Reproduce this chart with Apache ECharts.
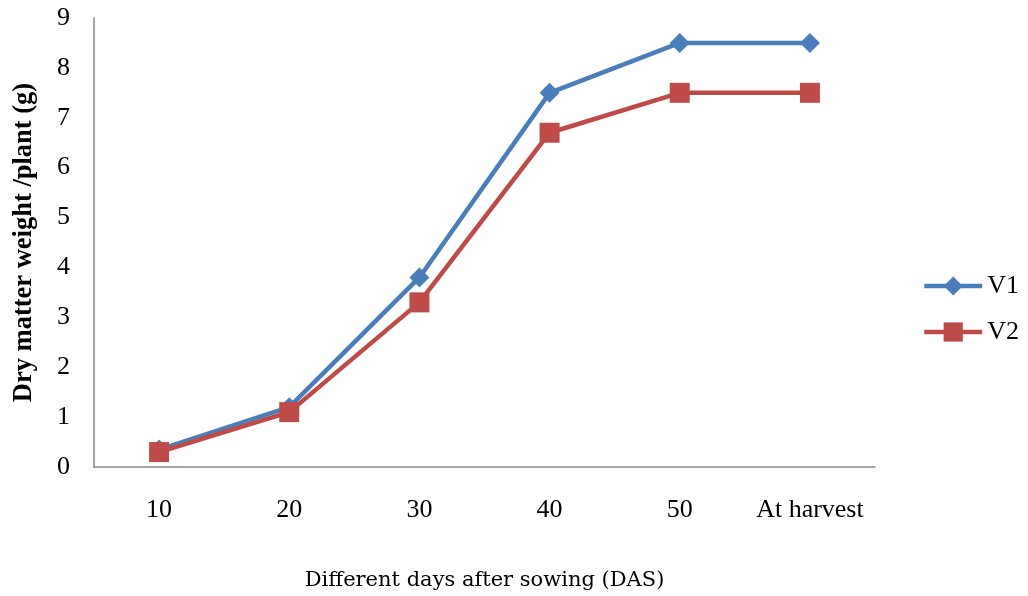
<!DOCTYPE html>
<html>
<head>
<meta charset="utf-8">
<script src="https://cdn.jsdelivr.net/npm/echarts@6/dist/echarts.min.js"></script>
<style>
  html, body { margin: 0; padding: 0; background: #ffffff; }
  #chart { width: 1028px; height: 596px; }
</style>
</head>
<body>
<div id="chart"></div>
<script>
// Dry matter accumulation per plant at successive sampling dates
const categories = ['10', '20', '30', '40', '50', 'At harvest'];
const v1Values = [0.35, 1.2, 3.8, 7.5, 8.5, 8.5];
const v2Values = [0.3, 1.1, 3.3, 6.7, 7.5, 7.5];
const yTicks = { min: 0, max: 9, interval: 1 };

const serif = '"Liberation Serif", "Times New Roman", serif';

const chart = echarts.init(document.getElementById('chart'), null, { renderer: 'canvas' });

chart.setOption({
  animation: false,
  backgroundColor: '#ffffff',
  grid: { left: 94, right: 153, top: 18, bottom: 129, containLabel: false, outerBoundsMode: 'none' },
  legend: {
    orient: 'vertical',
    right: 4,
    top: 268,
    itemWidth: 58,
    itemHeight: 24,
    itemGap: 20,
    lineStyle: { width: 4.5 },
    textStyle: { fontFamily: serif, fontSize: 26, color: '#000' },
    data: ['V1', 'V2']
  },
  xAxis: {
    type: 'category',
    data: categories,
    boundaryGap: true,
    name: 'Different days after sowing (DAS)',
    nameLocation: 'middle',
    nameGap: 103,
    nameTextStyle: { fontFamily: '"DejaVu Serif", serif', fontSize: 21, color: '#000' },
    axisLine: { lineStyle: { color: '#888', width: 1.5 } },
    axisTick: { show: false },
    axisLabel: { fontFamily: serif, fontSize: 26, color: '#000', margin: 30, interval: 0 },
    splitLine: { show: false }
  },
  yAxis: {
    type: 'value',
    min: yTicks.min,
    max: yTicks.max,
    interval: yTicks.interval,
    name: 'Dry matter weight /plant (g)',
    nameLocation: 'middle',
    nameGap: 56,
    nameTextStyle: { fontFamily: serif, fontSize: 26.5, fontWeight: 'bold', color: '#000' },
    axisLine: { show: true, lineStyle: { color: '#888', width: 1.5 } },
    axisTick: { show: false },
    axisLabel: { fontFamily: serif, fontSize: 26, color: '#000', margin: 24 },
    splitLine: { show: false }
  },
  series: [
    {
      name: 'V1',
      type: 'line',
      data: v1Values,
      symbol: 'diamond',
      symbolSize: 20,
      itemStyle: { color: '#4A7EBB' },
      lineStyle: { color: '#4A7EBB', width: 4.5 },
      z: 2
    },
    {
      name: 'V2',
      type: 'line',
      data: v2Values,
      symbol: 'rect',
      symbolSize: 20,
      itemStyle: { color: '#BE4B48' },
      lineStyle: { color: '#BE4B48', width: 4.5 },
      z: 3
    }
  ]
});
</script>
</body>
</html>
